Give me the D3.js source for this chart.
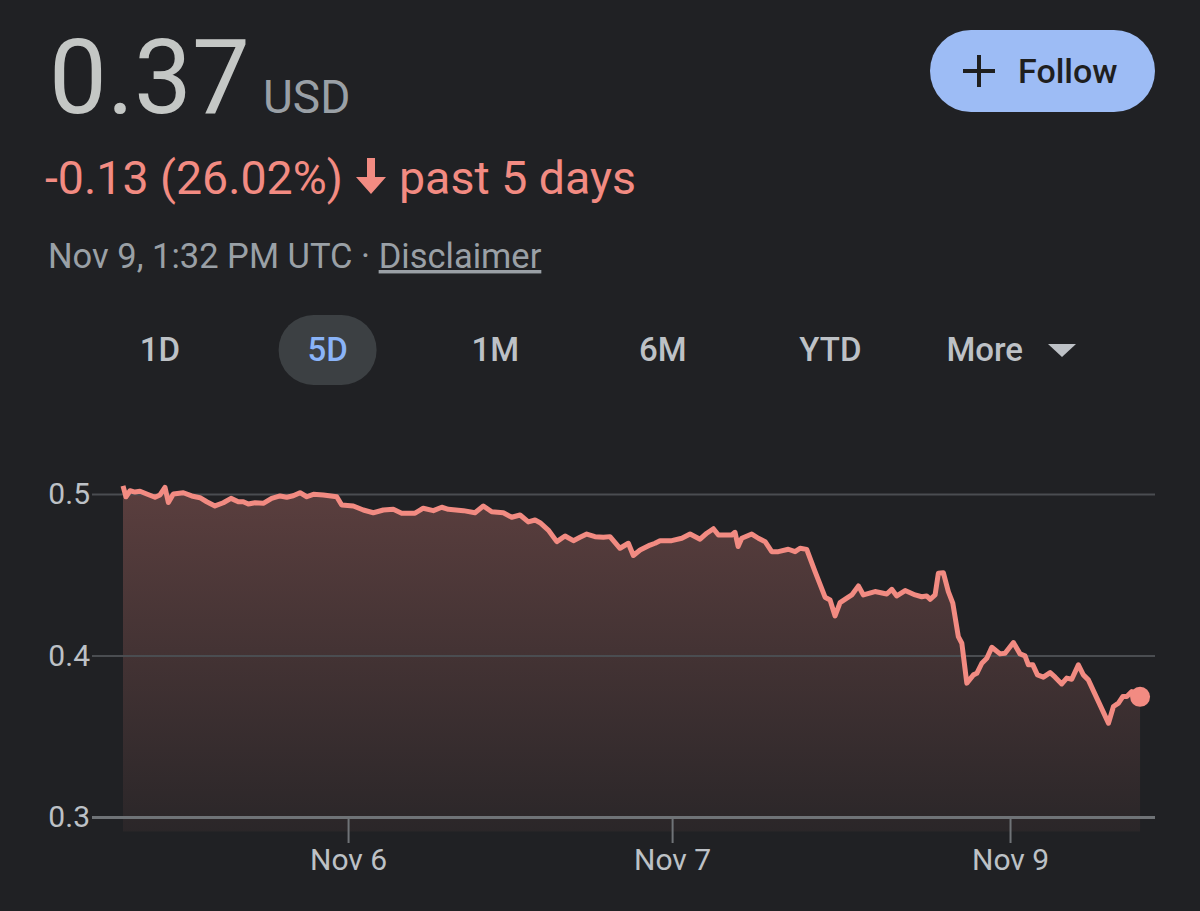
<!DOCTYPE html>
<html>
<head>
<meta charset="utf-8">
<script src="https://cdn.jsdelivr.net/npm/d3@7"></script>
<style>
    html, body { margin: 0; padding: 0; background: #202124; }
    svg { display: block; font-family: Roboto, "Noto Sans", sans-serif; }
</style>
</head>
<body>
<script>
// hours since the first point, and the price at that moment
let hours = [0, 0.22, 0.52, 0.89, 1.26, 1.76, 2.37, 2.74, 3.11, 3.36, 3.73, 4.47, 5.09, 5.7, 6.2, 6.81, 7.43, 8.0, 8.54, 8.91,
    9.28, 9.78, 10.39, 11.01, 11.63, 12.13, 12.61, 13.11, 13.61, 14.1, 14.84, 15.83, 16.2, 17.06, 17.8, 18.54, 19.28, 20.02, 20.64, 21.63,
    22.24, 22.99, 23.61, 24.1, 25.21, 26.07, 26.69, 27.31, 28.17, 28.79, 29.41, 30.02, 30.52, 30.89, 31.5, 32.13, 32.74, 33.36, 33.85, 34.35,
    34.96, 35.58, 36.07, 36.81, 37.43, 37.8, 38.3, 39.04, 39.41, 39.78, 40.64, 41.39, 42.0, 42.74, 43.24, 43.73, 44.1, 45.09, 45.33, 45.56,
    45.83, 46.57, 47.06, 47.56, 48.05, 48.54, 49.28, 49.78, 50.15, 50.64, 51.26, 52.0, 52.37, 52.74, 53.11, 53.61, 53.98, 54.47, 54.84, 55.7,
    56.57, 56.94, 57.31, 57.93, 58.67, 59.16, 59.53, 59.78, 60.15, 60.39, 60.76, 61.13, 61.46, 61.87, 62.13, 62.5, 62.99, 63.24, 63.61, 63.98,
    64.35, 64.96, 65.33, 65.95, 66.44, 66.81, 67.06, 67.39, 67.73, 68.17, 68.67, 69.04, 69.53, 69.9, 70.27, 70.76, 71.13, 71.5, 72.99, 73.36,
    73.73, 74.05, 74.35, 74.72, 75.33]
let prices = [0.505, 0.4983, 0.502, 0.5012, 0.5017, 0.5, 0.498, 0.4994, 0.5041, 0.4947, 0.5, 0.5008, 0.4988, 0.4977, 0.4952, 0.4926, 0.4946, 0.4973, 0.4952, 0.4952,
    0.4938, 0.4946, 0.4942, 0.4973, 0.4988, 0.498, 0.4989, 0.5008, 0.4983, 0.4998, 0.4994, 0.4983, 0.4932, 0.4926, 0.4901, 0.4884, 0.4901, 0.4905, 0.4881, 0.4881,
    0.4912, 0.4897, 0.4918, 0.4905, 0.4897, 0.4884, 0.4926, 0.489, 0.4884, 0.4856, 0.487, 0.4827, 0.4839, 0.4822, 0.4777, 0.4705, 0.474, 0.4711, 0.4732, 0.4752,
    0.4736, 0.4732, 0.4736, 0.4664, 0.4695, 0.4619, 0.4653, 0.4684, 0.4695, 0.4711, 0.4711, 0.4726, 0.4752, 0.472, 0.4757, 0.4785, 0.4746, 0.4746, 0.4763, 0.4675,
    0.4726, 0.4752, 0.4726, 0.4705, 0.4643, 0.4643, 0.4658, 0.4643, 0.4664, 0.4657, 0.4519, 0.4361, 0.4344, 0.4245, 0.4327, 0.4355, 0.4375, 0.4431, 0.4375, 0.4396,
    0.4381, 0.441, 0.4369, 0.4402, 0.4375, 0.4364, 0.4369, 0.4348, 0.4375, 0.4509, 0.4513, 0.4395, 0.4324, 0.4117, 0.4076, 0.3829, 0.388, 0.389, 0.3952, 0.3983,
    0.4051, 0.401, 0.4014, 0.408, 0.401, 0.3998, 0.3942, 0.3942, 0.388, 0.3866, 0.3894, 0.3866, 0.3824, 0.386, 0.3853, 0.3942, 0.388, 0.3849, 0.3581, 0.3684,
    0.3705, 0.3746, 0.3746, 0.3777, 0.3744]

let yTicks = [0.3, 0.4, 0.5]
let xTickHours = [16.67, 40.67, 65.7]
let xTickLabels = ["Nov 6", "Nov 7", "Nov 9"]
let ranges = ["1D", "5D", "1M", "6M", "YTD", "More"]
let activeRange = "5D"

let price = "0.37"
let currency = "USD"
let change = "-0.13 (26.02%)"
let changeNote = "past 5 days"
let stamp = "Nov 9, 1:32 PM UTC · "
let disclaimer = "Disclaimer"

let w = 1200
let h = 911
let red = "#f28b82"

let svg = d3.select("body").append("svg")
    .attr("width", w)
    .attr("height", h)

let defs = svg.append("defs")
let grad = defs.append("linearGradient")
    .attr("id", "fill")
    .attr("x1", 0).attr("y1", 0).attr("x2", 0).attr("y2", 1)
grad.append("stop").attr("offset", "0%").attr("stop-color", red).attr("stop-opacity", 0.28)
grad.append("stop").attr("offset", "100%").attr("stop-color", red).attr("stop-opacity", 0.05)

// header
svg.append("text").text(price)
    .attr("x", 49).attr("y", 113)
    .attr("fill", "#c4c7c5")
    .style("font-size", "103px")
svg.append("text").text(currency)
    .attr("x", 263).attr("y", 113)
    .attr("fill", "#9aa0a6")
    .style("font-size", "46px")

svg.append("text").text(change)
    .attr("x", 45).attr("y", 194)
    .attr("fill", red)
    .style("font-size", "46.5px")
svg.append("path")
    .attr("d", "M367,158 L375,158 L375,177 L386,177 L371,194 L356,177 L367,177 Z")
    .attr("fill", red)
svg.append("text").text(changeNote)
    .attr("x", 399).attr("y", 194)
    .attr("fill", red)
    .style("font-size", "46.5px")

let stampText = svg.append("text")
    .attr("x", 48).attr("y", 268)
    .attr("fill", "#9aa0a6")
    .style("font-size", "34.5px")
stampText.append("tspan").text(stamp)
stampText.append("tspan").text(disclaimer).attr("text-decoration", "underline")

// follow button
let follow = svg.append("g")
follow.append("rect")
    .attr("x", 930).attr("y", 30)
    .attr("width", 225).attr("height", 82)
    .attr("rx", 41)
    .attr("fill", "#9dbcf5")
follow.append("path")
    .attr("d", "M963,71 H995 M979,55 V87")
    .attr("stroke", "#1f1f1f")
    .attr("stroke-width", 4)
follow.append("text").text("Follow")
    .attr("x", 1018).attr("y", 83)
    .attr("fill", "#1f1f1f")
    .style("font-size", "34px")
    .style("font-weight", 500)

// range tabs
let tabX = d3.scalePoint().domain(ranges).range([160, 998])
svg.append("rect")
    .attr("x", tabX(activeRange) - 49).attr("y", 315)
    .attr("width", 98).attr("height", 70)
    .attr("rx", 35)
    .attr("fill", "#3c4043")
svg.selectAll("text.tab")
    .data(ranges)
    .enter()
    .append("text")
        .attr("class", "tab")
        .text(d => d)
        .attr("x", d => d === "More" ? tabX(d) + 25 : tabX(d))
        .attr("y", 361)
        .attr("text-anchor", d => d === "More" ? "end" : "middle")
        .attr("fill", d => d === activeRange ? "#8ab4f8" : "#bdc1c6")
        .style("font-size", "33px")
        .style("font-weight", 500)
svg.append("path")
    .attr("d", "M1048,344 L1076,344 L1062,357 Z")
    .attr("fill", "#bdc1c6")

// chart
let x = d3.scaleLinear().domain([0, 75.4]).range([123, 1141])
let y = d3.scaleLinear().domain([0.3, 0.5]).range([817, 494])
let pts = hours.map((d, i) => ({ t: d, v: prices[i] }))

let area = d3.area()
    .x(d => x(d.t))
    .y0(y(0.291))
    .y1(d => y(d.v))
svg.append("path")
    .datum(pts)
    .attr("d", area)
    .attr("fill", "url(#fill)")

let yAxis = svg.append("g")
    .attr("transform", "translate(1155,0)")
    .call(d3.axisLeft(y).tickValues(yTicks).tickSize(1063).tickPadding(2).tickFormat(d3.format(".1f")))
yAxis.select(".domain").remove()
yAxis.selectAll("line")
    .attr("stroke", (d, i) => i === 0 ? "#6f7377" : "#4a4d51")
    .attr("stroke-width", (d, i) => i === 0 ? 3 : 2)
yAxis.selectAll("text")
    .attr("fill", "#bdc1c6")
    .attr("font-family", "Roboto")
    .style("font-size", "30px")

let xAxis = svg.append("g")
    .attr("transform", "translate(0,817)")
    .call(d3.axisBottom(x).tickValues(xTickHours).tickSize(26).tickPadding(6).tickFormat((d, i) => xTickLabels[i]))
xAxis.select(".domain").remove()
xAxis.selectAll("line")
    .attr("stroke", "#6f7377")
    .attr("stroke-width", 2)
xAxis.selectAll("text")
    .attr("fill", "#bdc1c6")
    .attr("font-family", "Roboto")
    .style("font-size", "30px")

let line = d3.line()
    .x(d => x(d.t))
    .y(d => y(d.v))
svg.append("path")
    .datum(pts)
    .attr("d", line)
    .attr("fill", "none")
    .attr("stroke", red)
    .attr("stroke-width", 5)
    .attr("stroke-linejoin", "round")

let last = pts[pts.length - 1]
svg.append("circle")
    .attr("cx", x(last.t))
    .attr("cy", y(last.v))
    .attr("r", 10)
    .attr("fill", red)
</script>
</body>
</html>
